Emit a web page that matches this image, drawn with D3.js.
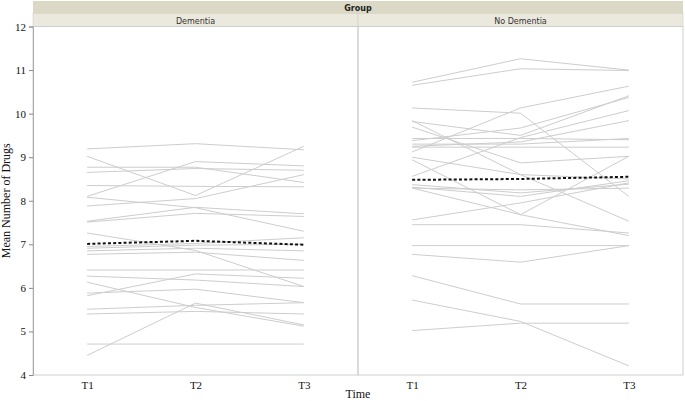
<!DOCTYPE html>
<html><head><meta charset="utf-8">
<script src="https://cdn.jsdelivr.net/npm/d3@7"></script>
<style>body{margin:0;background:#fff}svg{display:block}</style>
</head><body><svg id="c" width="685" height="401"></svg>
<script>
const times = ["T1","T2","T3"];
const groups = ["Dementia","No Dementia"];
const yTicks = [4,5,6,7,8,9,10,11,12];
const dementiaLines = [
  [9.19,9.31,9.17],[9.02,8.12,9.25],[8.77,8.77,8.42],[8.65,8.74,8.70],
  [8.35,8.33,8.32],[8.10,8.90,8.80],[8.08,7.84,7.30],[7.88,8.05,8.60],
  [7.53,7.85,7.70],[7.51,7.71,7.64],[7.26,6.86,6.03],[6.95,7.02,7.15],
  [6.91,6.98,7.00],[6.85,6.91,6.85],[6.77,6.82,6.63],[6.41,6.41,6.41],
  [6.27,6.18,6.03],[5.82,6.32,6.22],[5.88,5.97,5.66],[6.13,5.55,5.12],
  [4.45,5.65,5.15],[5.51,5.60,5.66],[5.40,5.46,5.40],[4.71,4.71,4.71]
];
const noDementiaLines = [
  [10.72,11.26,11.00],[10.65,11.03,10.99],[9.12,10.13,10.63],[10.13,10.01,8.10],
  [9.82,9.50,10.41],[9.38,9.67,10.37],[8.56,9.45,10.07],[9.25,9.35,9.84],
  [9.69,8.87,9.02],[8.94,7.68,9.02],[9.43,9.43,9.40],[9.30,9.30,9.43],
  [9.23,9.23,9.23],[9.00,8.60,8.50],[8.37,8.18,8.38],[8.31,8.10,8.46],
  [8.29,8.25,8.29],[7.56,7.95,8.41],[7.45,7.45,7.26],[9.84,8.60,7.53],
  [8.29,7.68,7.20],[6.97,6.97,6.97],[6.77,6.59,6.97],[6.28,5.63,5.63],
  [5.72,5.23,4.21],[5.02,5.19,5.19]
];
const dementiaMean = [7.01,7.08,6.99];
const noDementiaMean = [8.48,8.50,8.55];

const svg = d3.select("#c");
const L = 33, R = 683, T = 26.5, B = 375;
const serif = "'Liberation Serif','Times New Roman',serif";
const sans = "'DejaVu Sans',Tahoma,sans-serif";
const panelW = (R - L) / 2;
const y = d3.scaleLinear().domain([4,12]).range([B,T]);

// header
svg.append("rect").attr("x",L).attr("y",1).attr("width",R-L).attr("height",12.5).attr("fill","#dbd8c6");
svg.append("text").attr("x",(L+R)/2).attr("y",10.5).attr("text-anchor","middle")
  .attr("font-family",sans).attr("font-size",8).attr("font-weight","bold").attr("fill","#222").text("Group");
const xPanel = d3.scaleBand().domain(groups).range([L,R]);
groups.forEach(g=>{
  svg.append("rect").attr("x",xPanel(g)).attr("y",13.5).attr("width",xPanel.bandwidth()).attr("height",13)
    .attr("fill","#ebe9de").attr("stroke","#d0cebf").attr("stroke-width",0.6);
  svg.append("text").attr("x",xPanel(g)+xPanel.bandwidth()/2).attr("y",23.5).attr("text-anchor","middle")
    .attr("font-family",sans).attr("font-size",8).attr("fill","#333").text(g);
});

const line = x => d3.line().x((d,i)=>x(times[i])).y(d=>y(d));
const data = {"Dementia":[dementiaLines,dementiaMean],"No Dementia":[noDementiaLines,noDementiaMean]};
groups.forEach(g=>{
  const x0 = xPanel(g);
  const x = d3.scalePoint().domain(times).range([x0, x0+xPanel.bandwidth()]).padding(0.5);
  const gp = svg.append("g");
  gp.append("rect").attr("x",x0).attr("y",T).attr("width",xPanel.bandwidth()).attr("height",B-T)
    .attr("fill","none").attr("stroke","#cfcfcf").attr("stroke-width",1);
  gp.selectAll("path.sub").data(data[g][0]).join("path").attr("class","sub")
    .attr("d",line(x)).attr("fill","none").attr("stroke","#cdcdcd").attr("stroke-width",1);
  gp.append("path").datum(data[g][1]).attr("d",line(x)).attr("fill","none")
    .attr("stroke","#111").attr("stroke-width",2).attr("stroke-dasharray","3,2.2");
  const ax = gp.append("g").attr("transform",`translate(0,${B})`)
    .call(d3.axisBottom(x).tickSize(0).tickPadding(6));
  ax.select(".domain").remove();
  ax.selectAll("text").attr("font-family",serif).attr("font-size",11).attr("fill","#111");
});

// y axis
const ay = svg.append("g").attr("transform",`translate(${L},0)`)
  .call(d3.axisLeft(y).tickValues(yTicks).tickFormat(d3.format("d")).tickSize(4).tickPadding(3));
ay.select(".domain").attr("stroke","#aaa");
ay.selectAll("line").attr("stroke","#888");
ay.selectAll("text").attr("font-family",serif).attr("font-size",11).attr("fill","#111");

svg.append("text").attr("transform",`translate(10,${(T+B)/2}) rotate(-90)`).attr("text-anchor","middle")
  .attr("font-family",serif).attr("font-size",12).attr("fill","#111").text("Mean Number of Drugs");
svg.append("text").attr("x",(L+R)/2).attr("y",398).attr("text-anchor","middle")
  .attr("font-family",serif).attr("font-size",12).attr("fill","#111").text("Time");
</script></body></html>
